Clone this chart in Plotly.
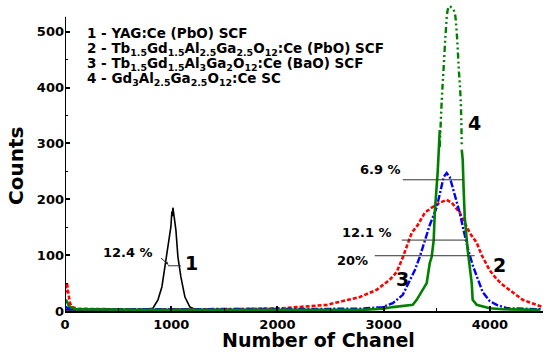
import plotly.graph_objects as go

# ---------------- data ----------------
# Curve 1 : YAG:Ce (PbO) SCF  (black, solid)
ch1 = [0, 100, 400, 700, 828, 875, 912, 941, 969, 997, 1006, 1010, 1016, 1022, 1028, 1044, 1063, 1091, 1129, 1176, 1223, 1500]
cnt1 = [2, 2, 2, 2, 5, 20, 43, 79, 122, 151, 178, 170, 185, 172, 168, 145, 97, 61, 25, 7, 3, 2]

# Curve 2 : Tb1.5Gd1.5Al2.5Ga2.5O12:Ce (PbO) SCF  (red, dashed)
ch2 = [0, 10, 19, 28, 47, 66, 120, 500, 1000, 1552, 2051, 2465, 2775, 2935, 3057, 3123, 3170, 3217, 3264,
       3321, 3387, 3452, 3528, 3593, 3641, 3716, 3810, 3876, 3923, 3998, 4064, 4120, 4214, 4309, 4440, 4497]
cnt2 = [30, 45, 50, 36, 14, 7, 4, 3, 3, 3, 5, 11, 25, 38, 56, 70, 91, 115, 140,
        154, 176, 185, 194, 199, 194, 176, 140, 122, 100, 73, 57, 47, 34, 20, 11, 7]

# Curve 3 : Tb1.5Gd1.5Al3Ga2O12:Ce (BaO) SCF  (blue, dash-dot)
ch3 = [0, 50, 200, 800, 1500, 2200, 2775, 2991, 3086, 3180, 3274, 3293, 3340, 3387, 3434, 3500, 3537, 3565,
       3593, 3622, 3669, 3716, 3763, 3791, 3838, 3885, 3932, 3998, 4064, 4158, 4374, 4497]
cnt3 = [8, 3, 3, 3, 3, 3, 4, 7, 14, 29, 65, 73, 97, 127, 154, 186, 217, 240,
        247, 240, 208, 176, 136, 113, 82, 56, 34, 18, 11, 5, 3, 3]

# Curve 4 : Gd3Al2.5Ga2.5O12:Ce SC  (green) - solid lower flanks, dash-dot-dot top
ch4_left = [0, 15, 40, 100, 800, 2000, 2800, 2991, 3086, 3274, 3311, 3405, 3434, 3452, 3471, 3481, 3509, 3528]
cnt4_left = [15, 18, 8, 3, 2, 2, 2, 4, 7, 11, 20, 50, 86, 97, 127, 176, 250, 324]
ch4_top = [3528, 3547, 3565, 3584, 3603, 3620, 3641, 3655, 3669, 3688, 3706, 3725, 3735]
cnt4_top = [294, 378, 437, 498, 539, 546, 543, 540, 534, 498, 437, 378, 294]
ch4_right = [3735, 3744, 3753, 3763, 3791, 3829, 3838, 3876, 3998, 4120, 4469]
cnt4_right = [289, 271, 217, 169, 109, 50, 20, 11, 5, 3, 2]

# FWHM markers: label, label x, label y, line x0, line x1, line y
fwhm_labels = ["12.4 %", "6.9 %", "12.1 %", "20%"]
fwhm_label_x = [593, 2968, 2840, 2710]
fwhm_label_y = [105, 254, 141, 90]
fwhm_x0 = [969, 3180, 3170, 2916]
fwhm_x1 = [1091, 3744, 3791, 3857]
fwhm_y = [81, 235, 127, 99]

# curve number labels
num_labels = ["1", "2", "3", "4"]
num_x = [1195, 4092, 3180, 3857]
num_y = [86, 82, 57, 336]

legend_lines = [
    "1 - YAG:Ce (PbO) SCF",
    "2 - Tb<sub>1.5</sub>Gd<sub>1.5</sub>Al<sub>2.5</sub>Ga<sub>2.5</sub>O<sub>12</sub>:Ce (PbO) SCF",
    "3 - Tb<sub>1.5</sub>Gd<sub>1.5</sub>Al<sub>3</sub>Ga<sub>2</sub>O<sub>12</sub>:Ce (BaO) SCF",
    "4 - Gd<sub>3</sub>Al<sub>2.5</sub>Ga<sub>2.5</sub>O<sub>12</sub>:Ce SC",
]
legend_y = [497, 470, 443, 415]

x_ticks = [0, 1000, 2000, 3000, 4000]
y_ticks = [0, 100, 200, 300, 400, 500]

# ---------------- figure ----------------
FONT = "DejaVu Sans"
L, R, T, B = 65, 7, 5, 46
W, H = 550, 357
pw, ph = W - L - R, H - T - B


def bold(size):
    return dict(family=FONT, size=size, color="black", weight="bold")


fig = go.Figure()
fig.add_trace(go.Scatter(x=ch1, y=cnt1, mode="lines",
                         line=dict(color="black", width=1.6)))
fig.add_trace(go.Scatter(x=ch2, y=cnt2, mode="lines",
                         line=dict(color="#ff0000", width=2.6, dash="4px,2px")))
fig.add_trace(go.Scatter(x=ch3, y=cnt3, mode="lines",
                         line=dict(color="#0000ff", width=2.4, dash="7px,2px,2px,2px")))
fig.add_trace(go.Scatter(x=ch4_left, y=cnt4_left, mode="lines",
                         line=dict(color="#008000", width=2.6)))
fig.add_trace(go.Scatter(x=ch4_right, y=cnt4_right, mode="lines",
                         line=dict(color="#008000", width=2.6)))
fig.add_trace(go.Scatter(x=ch4_top, y=cnt4_top, mode="lines", line_shape="spline",
                         line=dict(color="#008000", width=2.4, dash="6px,3px,2px,3px,2px,3px")))

shapes = []
for x0, x1, y in zip(fwhm_x0, fwhm_x1, fwhm_y):
    shapes.append(dict(type="line", xref="x", yref="y", x0=x0, x1=x1, y0=y, y1=y,
                       line=dict(color="#333333", width=1)))
# y axis line (stops below the top of the plot, like the original)
shapes.append(dict(type="line", xref="x", yref="y", x0=0, x1=0, y0=0, y1=527,
                   line=dict(color="black", width=2)))

annotations = []
for t, x, y in zip(fwhm_labels, fwhm_label_x, fwhm_label_y):
    annotations.append(dict(x=x, y=y, xref="x", yref="y", text=t, showarrow=False,
                            font=bold(13), xanchor="center", yanchor="middle"))
# arrow for 12.4 %
annotations.append(dict(x=975, y=83, ax=890, ay=97, xref="x", yref="y", axref="x", ayref="y",
                        text="", showarrow=True, arrowhead=2, arrowsize=0.6, arrowwidth=1, arrowcolor="#222222"))
for t, x, y in zip(num_labels, num_x, num_y):
    annotations.append(dict(x=x, y=y, xref="x", yref="y", text=t, showarrow=False,
                            font=bold(19), xanchor="center", yanchor="middle"))
for t, y in zip(legend_lines, legend_y):
    annotations.append(dict(x=188, y=y, xref="x", yref="y", text=t, showarrow=False,
                            font=bold(13.5), xanchor="left", yanchor="middle"))
# axis titles (positioned in pixels, converted to paper coordinates)
annotations.append(dict(x=(318 - L) / pw, y=(H - B - 340) / ph, xref="paper", yref="paper",
                        text="Number of Chanel", showarrow=False, font=bold(19),
                        xanchor="center", yanchor="middle"))
annotations.append(dict(x=(16 - L) / pw, y=(H - B - 166) / ph, xref="paper", yref="paper",
                        text="Counts", showarrow=False, textangle=-90, font=bold(20),
                        xanchor="center", yanchor="middle"))

fig.update_layout(
    width=W, height=H, margin=dict(l=L, r=R, t=T, b=B),
    paper_bgcolor="white", plot_bgcolor="white", showlegend=False,
    font=dict(family=FONT, color="black"),
    shapes=shapes, annotations=annotations,
    xaxis=dict(range=[0, 4500], tickvals=x_ticks, ticks="inside", ticklen=5, tickwidth=1.5,
               tickcolor="black", showline=True, linecolor="black", linewidth=2,
               showgrid=False, zeroline=False, tickfont=bold(13),
               minor=dict(dtick=500, ticks="inside", ticklen=3, tickcolor="black", tickwidth=1)),
    yaxis=dict(range=[0, 548], tickvals=y_ticks, ticks="inside", ticklen=5, tickwidth=1.5,
               tickcolor="black", showline=False,
               showgrid=False, zeroline=False, tickfont=bold(13),
               minor=dict(dtick=50, ticks="inside", ticklen=3, tickcolor="black", tickwidth=1)),
)

fig.write_html("out.html", config={"displayModeBar": False},
               post_script="document.body.style.margin='0';")
